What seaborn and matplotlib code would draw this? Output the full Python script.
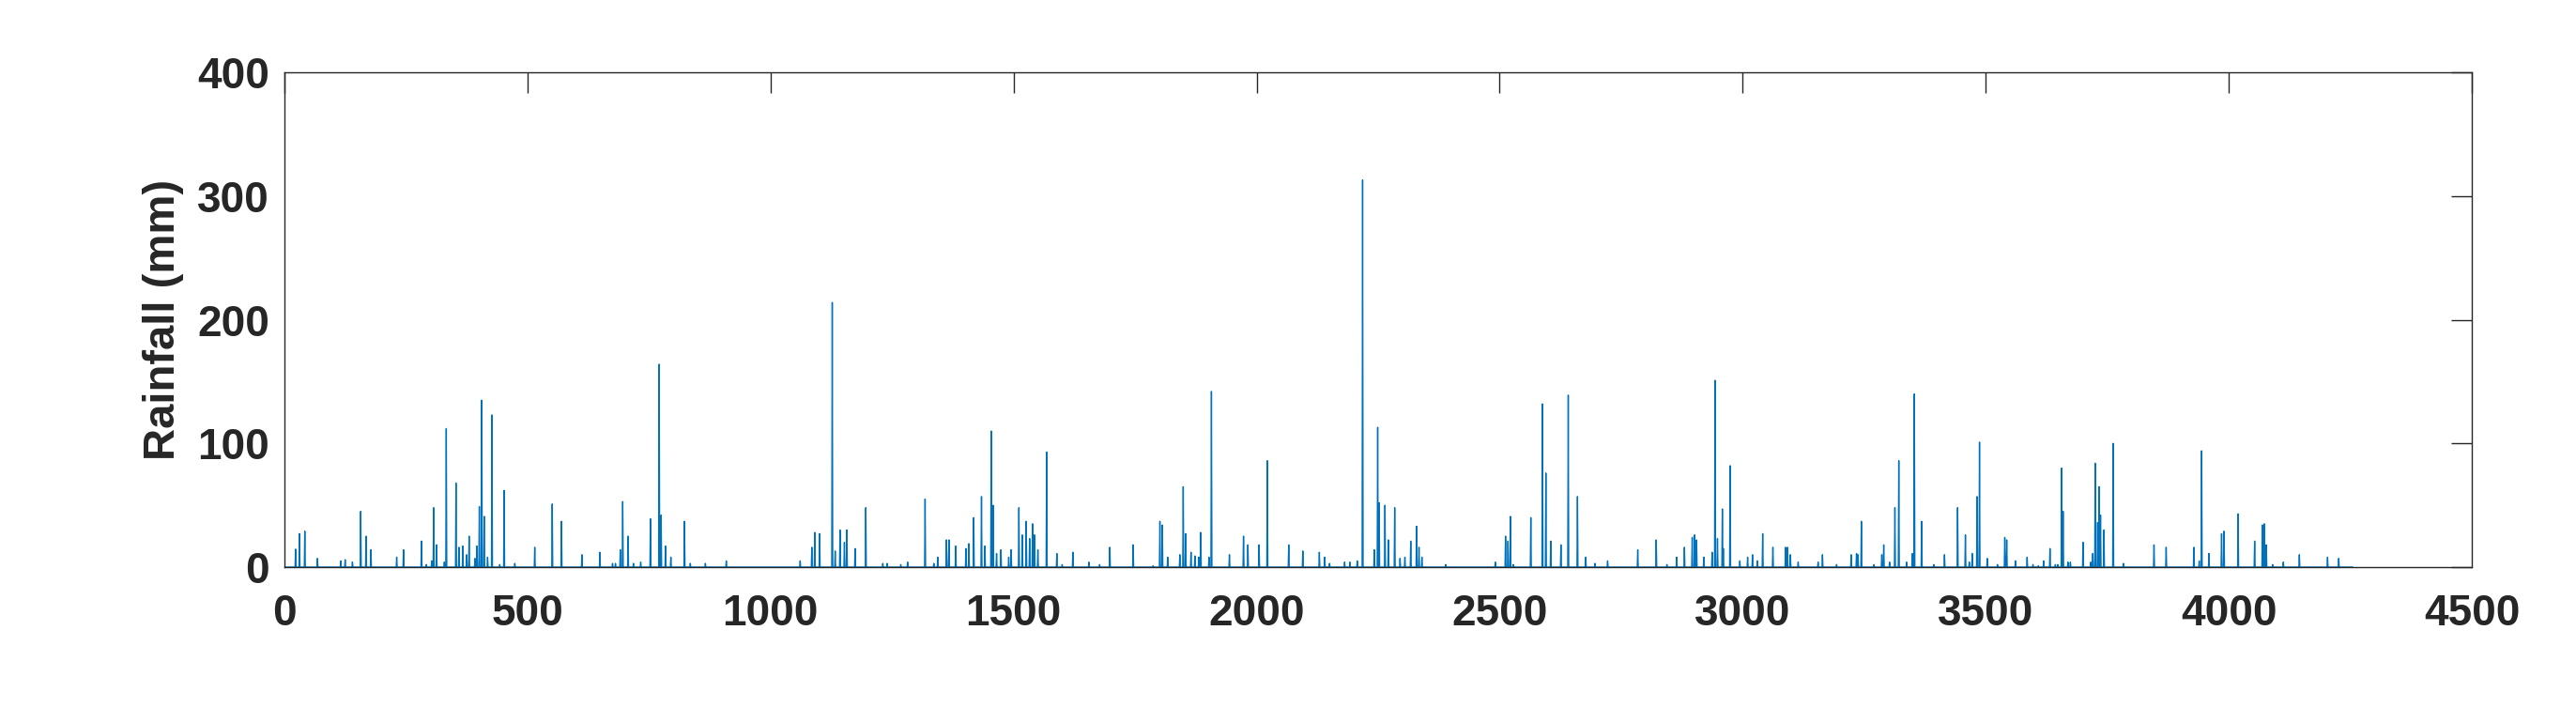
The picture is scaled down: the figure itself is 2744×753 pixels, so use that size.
import numpy as np
import pandas as pd
from matplotlib import pyplot as plt
import seaborn as sns

# number of daily records
n_days = 4255

# rainy days (day index) and rainfall depth (mm); all other days are dry
spike_day = [
    23, 31, 42, 68, 116, 125, 140, 157, 168, 178, 231, 245, 282, 292, 303, 307, 313, 329,
    333, 353, 359, 367, 375, 380, 392, 396, 401, 406, 411, 418, 427, 443, 452, 474, 515,
    551, 570, 612, 649, 675, 681, 691, 696, 707, 718, 733, 753, 771, 775, 784, 795, 823,
    835, 866, 909, 1061, 1085, 1091, 1101, 1127, 1133, 1143, 1152, 1157, 1174, 1196, 1231,
    1240, 1268, 1282, 1318, 1336, 1344, 1362, 1367, 1381, 1402, 1408, 1418, 1434, 1441,
    1454, 1458, 1465, 1474, 1490, 1495, 1511, 1518, 1526, 1533, 1539, 1543, 1550, 1568,
    1589, 1600, 1622, 1655, 1677, 1698, 1746, 1787, 1801, 1806, 1817, 1842, 1849, 1854,
    1865, 1873, 1881, 1885, 1902, 1907, 1944, 1973, 1982, 2005, 2022, 2066, 2095, 2129,
    2140, 2150, 2181, 2192, 2207, 2218, 2242, 2249, 2252, 2264, 2271, 2284, 2295, 2305,
    2317, 2329, 2334, 2340, 2389, 2491, 2512, 2517, 2522, 2528, 2564, 2588, 2595, 2605,
    2626, 2641, 2660, 2677, 2696, 2722, 2784, 2822, 2844, 2864, 2880, 2896, 2901, 2905,
    2920, 2937, 2943, 2948, 2958, 2960, 2974, 2994, 3010, 3020, 3030, 3041, 3062, 3088,
    3092, 3098, 3114, 3155, 3164, 3193, 3223, 3234, 3237, 3244, 3270, 3286, 3290, 3302,
    3313, 3321, 3337, 3349, 3353, 3368, 3393, 3415, 3442, 3458, 3466, 3472, 3482, 3487,
    3503, 3524, 3539, 3543, 3561, 3585, 3597, 3608, 3619, 3632, 3643, 3648, 3656, 3659,
    3669, 3674, 3700, 3716, 3720, 3725, 3730, 3733, 3736, 3743, 3762, 3783, 3846, 3871,
    3928, 3939, 3944, 3959, 3985, 3990, 4019, 4053, 4069, 4073, 4077, 4090, 4112, 4145,
    4203, 4226,
]
spike_mm = [
    14.5, 27, 29, 7, 5, 6, 4, 45, 25, 14, 8, 14, 21, 2, 5, 48, 18, 4,
    112, 68, 16, 17, 10, 25, 7, 17, 49, 135, 41, 8, 123, 2, 62, 3, 16,
    51, 37, 10, 12, 3, 3, 14, 53, 25, 3, 4, 39, 164, 42, 17, 8, 37,
    3, 3, 5, 5, 16, 28, 27, 214, 13, 30, 20, 30, 15, 48, 3,
    3, 2, 4, 55, 3, 8, 22, 22, 17, 15, 19, 40, 57, 17,
    110, 50, 11, 14, 8, 14, 48, 26, 37, 23, 35, 26, 14, 93,
    11, 2, 12, 4, 2, 16, 18, 1, 37, 34, 8, 10, 65, 27,
    12, 9, 8, 28, 8, 142, 10, 25, 18, 18, 86, 18, 13, 12,
    8, 3, 4, 4, 5, 313, 14, 113, 52, 50, 22, 48, 7, 8,
    21, 33, 16, 8, 2, 4, 25, 21, 41, 2, 40, 132, 76, 21,
    18, 139, 57, 8, 3, 5, 14, 22, 2, 8, 16, 24, 26, 22,
    8, 12, 151, 23, 47, 15, 82, 5, 8, 10, 5, 27, 16, 16,
    16, 10, 4, 4, 10, 2, 10, 11, 10, 37, 2, 10, 18, 4,
    48, 86, 4, 11, 140, 37, 2, 10, 48, 26, 4, 11, 57, 101,
    7, 2, 24, 22, 5, 8, 2, 1, 5, 15, 2, 2, 80, 45,
    4, 4, 20, 4, 11, 84, 36, 65, 42, 30, 100, 3, 18, 16,
    16, 5, 94, 11, 27, 29, 43, 21, 34, 35, 18, 2, 4, 10,
    8, 7,
]

rain = np.zeros(n_days)
rain[np.array(spike_day) - 1] = spike_mm
df = pd.DataFrame({"day": np.arange(1, n_days + 1), "rain": rain})

sns.set_theme(style="white")
plt.rcParams["font.family"] = ["Liberation Sans", "DejaVu Sans"]
plt.rcParams["font.weight"] = "bold"

fig = plt.figure(figsize=(27.44, 7.53), dpi=100)
ax = fig.add_axes([0.1104, 0.1979, 0.9596 - 0.1104, 0.8977 - 0.1979])

sns.lineplot(data=df, x="day", y="rain", ax=ax, color="#0072BD", linewidth=1.0,
             estimator=None, errorbar=None)

ax.set_xlim(0, 4500)
ax.set_ylim(0, 400)
ax.set_xticks(range(0, 4501, 500))
ax.set_yticks(range(0, 401, 100))
ax.set_xlabel("")
ax.set_ylabel("Rainfall (mm)", fontsize=34, fontweight="bold", labelpad=10, color="#262626")

for s in ax.spines.values():
    s.set_visible(True)
    s.set_color("#262626")
    s.set_linewidth(1.0)

ax.tick_params(axis="both", direction="in", length=16, width=1.0, color="#262626",
               top=True, right=True, labelsize=33, labelcolor="#262626")
ax.tick_params(axis="x", pad=20)
ax.tick_params(axis="y", pad=11.5)
for lab in ax.get_xticklabels() + ax.get_yticklabels():
    lab.set_fontweight("bold")

fig.savefig("out.png", dpi=100, facecolor="white")
